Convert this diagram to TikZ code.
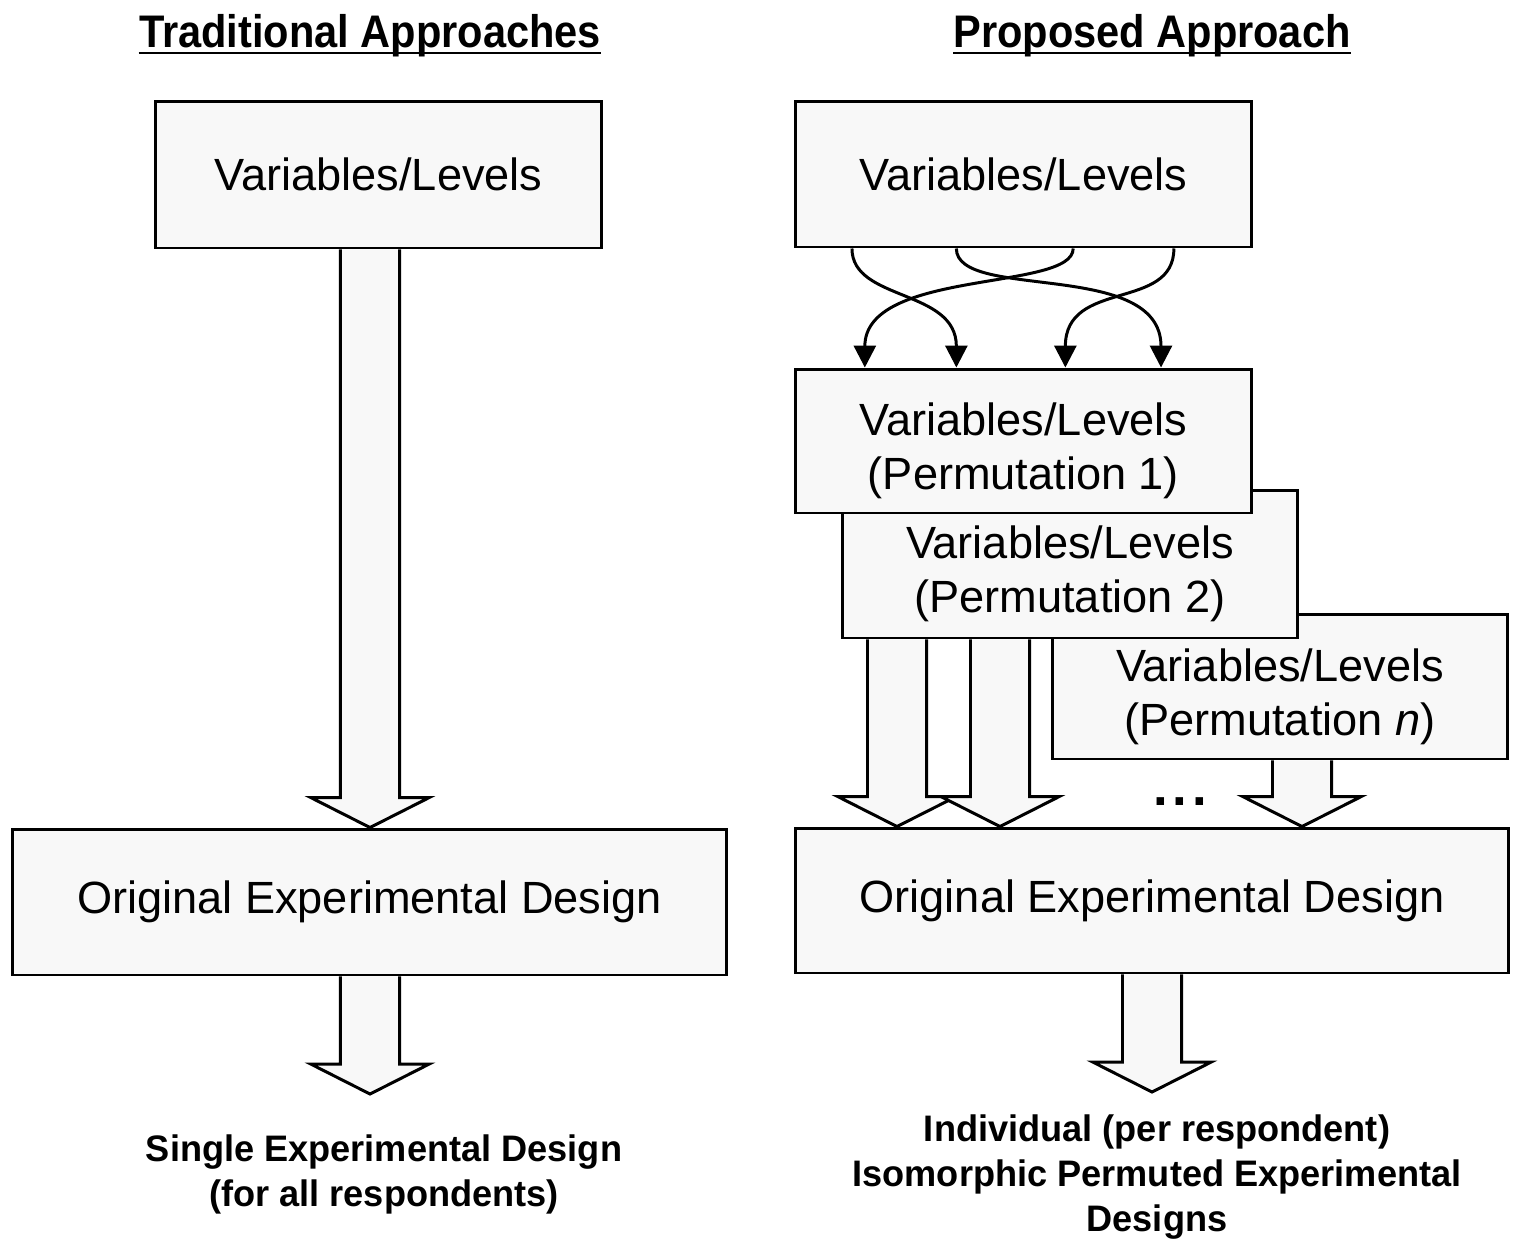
\documentclass[tikz,border=0pt]{standalone}
\usepackage{fontspec}
\setmainfont{Liberation Sans}
\usetikzlibrary{arrows.meta,calc,backgrounds}

\definecolor{boxfill}{HTML}{F8F8F8}

\newcommand\boxfont{\fontsize{25.7}{30.6}\selectfont}
\newcommand\titlefont{\fontsize{26}{30}\selectfont\bfseries}
\newcommand\resultfont{\fontsize{21}{25.6}\selectfont\bfseries}
% extra height on the first line lowers two-line box texts a little
\newcommand\lowerline{\rule{0pt}{30pt}}
\newcommand\narrow[1]{\scalebox{0.98}[1]{#1}}

\tikzset{
  boxnode/.style={draw, fill=boxfill, line width=1.7pt, inner sep=0pt,
    font=\boxfont, align=center},
  blockarr/.style={draw, fill=boxfill, line width=1.7pt, line join=miter},
  curvearr/.style={line width=1.7pt, -{Triangle[width=12.5pt,length=12.5pt]}},
  titlenode/.style={font=\titlefont, inner sep=0pt, anchor=base},
  resultnode/.style={font=\resultfont, inner sep=0pt, align=center},
}

% hollow block arrow: #1 centre line, #2 start (y), #3 tip (y)
\newcommand\blockarrow[3]{%
  \draw[blockarr] let \p1=(#1), \p2=(#2), \p3=(#3) in
    ({\x1-16.8pt},\y2) -- ({\x1-16.8pt},{\y3+17pt}) -- ({\x1-33.6pt},{\y3+17pt})
    -- (\x1,\y3) -- ({\x1+33.6pt},{\y3+17pt}) -- ({\x1+16.8pt},{\y3+17pt})
    -- ({\x1+16.8pt},\y2);
}

\begin{document}
\begin{tikzpicture}[x=0.02cm,y=-0.02cm]

% ---- headings ----
\node[titlenode] (t1) at (370,47) {\scalebox{0.91}[1]{Traditional Approaches}};
\node[titlenode] (t2) at (1152,47) {\scalebox{0.91}[1]{Proposed Approach}};
\draw[line width=1.2pt] ([yshift=-3.4pt]t1.base west) -- ([yshift=-3.4pt]t1.base east);
\draw[line width=1.2pt] ([yshift=-3.4pt]t2.base west) -- ([yshift=-3.4pt]t2.base east);

% ---- traditional approach ----
\node[boxnode, minimum width=8.94cm, minimum height=2.94cm] (LT) at (378.5,174.5) {Variables/Levels};
\node[boxnode, minimum width=14.3cm, minimum height=2.92cm] (LB) at (369.5,902) {Original Experimental Design};
\coordinate (LEnd) at (370,1094);
\node[resultnode] (Lout) at (384,1174)
  {\narrow{Single Experimental Design}\\\narrow{(for all respondents)}};

% ---- proposed approach ----
\node[boxnode, minimum width=9.14cm, minimum height=2.92cm] (RT) at (1023.5,174) {Variables/Levels};
\node[boxnode, minimum width=9.12cm, minimum height=2.9cm] (Pn) at (1280,686.5)
  {\lowerline Variables/Levels\\(Permutation \textit{n})};
\node[boxnode, minimum width=9.12cm, minimum height=2.96cm] (P2) at (1070,564)
  {\lowerline Variables/Levels\\(Permutation 2)};
\node[boxnode, minimum width=9.14cm, minimum height=2.88cm] (P1) at (1023.5,441)
  {\lowerline Variables/Levels\\(Permutation 1)};
\node[boxnode, minimum width=14.28cm, minimum height=2.9cm] (RB) at (1152,900.5) {Original Experimental Design};
\node[font=\fontsize{30}{30}\selectfont\bfseries, inner sep=0pt, anchor=base] (dots) at (1180,805)
  {.\kern2.7pt.\kern2.7pt.};
\coordinate (REnd) at (1152,1092);
\node[resultnode] (Rout) at (1157,1177)
  {\narrow{Individual (per respondent)}\\
   \narrow{Isomorphic Permuted Experimental}\\
   \narrow{Designs}};

% ---- block arrows, kept behind the boxes ----
\begin{scope}[on background layer]
  \fill[white] (0,0) rectangle (1517,1245);
  \blockarrow{370,0}{LT.south}{LB.north}
  \blockarrow{370,0}{LB.south}{LEnd}
  \blockarrow{897,0}{P2.south}{RB.north}
  \blockarrow{1000,0}{P2.south}{RB.north}
  \blockarrow{1302,0}{Pn.south}{RB.north}
  \blockarrow{1152,0}{RB.south}{REnd}
\end{scope}

% ---- permutation arrows ----
\draw[curvearr] ($(RT.south west)!0.127!(RT.south east)$)
  .. controls +(0,53) and +(0,-79) .. ($(P1.north west)!0.354!(P1.north east)$);
\draw[curvearr] ($(RT.south west)!0.354!(RT.south east)$)
  .. controls +(0,53) and +(0,-109) .. ($(P1.north west)!0.799!(P1.north east)$);
\draw[curvearr] ($(RT.south west)!0.608!(RT.south east)$)
  .. controls +(0,43) and +(0,-99) .. ($(P1.north west)!0.155!(P1.north east)$);
\draw[curvearr] ($(RT.south west)!0.827!(RT.south east)$)
  .. controls +(0,63) and +(0,-89) .. ($(P1.north west)!0.591!(P1.north east)$);

\useasboundingbox (0,0) rectangle (1517,1245);
\end{tikzpicture}
\end{document}
